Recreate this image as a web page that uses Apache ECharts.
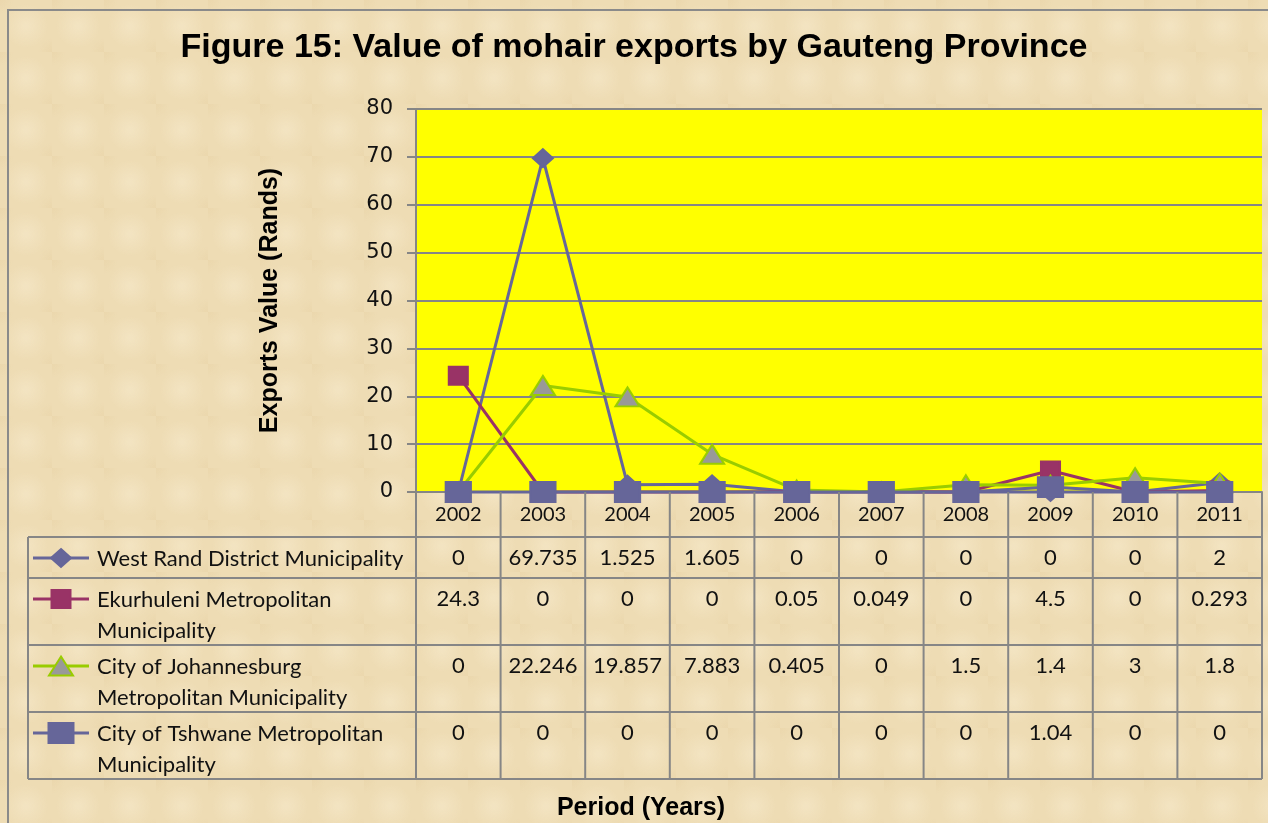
<!DOCTYPE html>
<html>
<head>
<meta charset="utf-8">
<script src="https://cdn.jsdelivr.net/npm/echarts@6/dist/echarts.min.js"></script>
<style>
  html, body { margin: 0; padding: 0; }
  body {
    background-color: #eedcb4;
    background-image:
      radial-gradient(circle at 50% 50%, rgba(248, 236, 208, 0.5) 0, rgba(248, 236, 208, 0) 22px),
      radial-gradient(circle at 0 0, rgba(228, 204, 156, 0.3) 0, rgba(228, 204, 156, 0) 14px),
      radial-gradient(circle at 100% 100%, rgba(228, 204, 156, 0.3) 0, rgba(228, 204, 156, 0) 14px);
    background-size: 52px 52px;
  }
  #main { width: 1268px; height: 823px; }
</style>
</head>
<body>
<div id="main"></div>
<script>
// data
const years = ['2002', '2003', '2004', '2005', '2006', '2007', '2008', '2009', '2010', '2011']
const seriesNames = [
  'West Rand District Municipality',
  'Ekurhuleni Metropolitan Municipality',
  'City of Johannesburg Metropolitan Municipality',
  'City of Tshwane Metropolitan Municipality'
]
const westRand = [0, 69.735, 1.525, 1.605, 0, 0, 0, 0, 0, 2]
const ekurhuleni = [24.3, 0, 0, 0, 0.05, 0.049, 0, 4.5, 0, 0.293]
const johannesburg = [0, 22.246, 19.857, 7.883, 0.405, 0, 1.5, 1.4, 3, 1.8]
const tshwane = [0, 0, 0, 0, 0, 0, 0, 1.04, 0, 0]
const yMin = 0
const yMax = 80
const yStep = 10

const values = [westRand, ekurhuleni, johannesburg, tshwane]

const styles = [
  { line: '#666699', fill: '#666699', border: '#666699', symbol: 'diamond', size: [20, 18] },
  { line: '#993366', fill: '#993366', border: '#993366', symbol: 'rect', size: [19, 18] },
  { line: '#99cc00', fill: '#999999', border: '#99cc00', symbol: 'triangle', size: [24, 19] },
  { line: '#666699', fill: '#666699', border: '#666699', symbol: 'rect', size: [25, 20] }
]

const font = 'Lato, "Open Sans", sans-serif'
const boldFont = '"Liberation Sans", Arial, sans-serif'
const gridColor = '#868686'

// table layout
const plotLeft = 416
const plotRight = 1262
const axisY = 492
const tableLeft = 28
const rowTops = [537, 578, 645, 712]
const tableBottom = 779
const colW = (plotRight - plotLeft) / years.length

const graphic = []
const line = (x1, y1, x2, y2) => ({
  type: 'line',
  shape: { x1, y1, x2, y2 },
  style: { stroke: gridColor, lineWidth: 2 },
  z: 10
})

// horizontal rules
rowTops.forEach(y => graphic.push(line(tableLeft, y, plotRight, y)))
graphic.push(line(tableLeft, tableBottom, plotRight, tableBottom))
// verticals
graphic.push(line(tableLeft, rowTops[0], tableLeft, tableBottom))
for (let i = 0; i <= years.length; i++) {
  const x = plotLeft + i * colW
  graphic.push(line(x, axisY, x, tableBottom))
}

seriesNames.forEach((name, r) => {
  const y = rowTops[r] + 21
  const st = styles[r]
  graphic.push({
    type: 'line',
    shape: { x1: 33, y1: y, x2: 89, y2: y },
    style: { stroke: st.line, lineWidth: 3 },
    z: 11
  })
  const cx = 61
  const [w, h] = st.size
  let key
  if (st.symbol === 'diamond') {
    key = { type: 'polygon', shape: { points: [[cx, y - h / 2], [cx + w / 2, y], [cx, y + h / 2], [cx - w / 2, y]] } }
  } else if (st.symbol === 'triangle') {
    key = { type: 'polygon', shape: { points: [[cx, y - h / 2], [cx + w / 2, y + h / 2], [cx - w / 2, y + h / 2]] } }
  } else {
    key = { type: 'rect', shape: { x: cx - w / 2, y: y - h / 2, width: w, height: h } }
  }
  key.style = { fill: st.fill, stroke: st.border, lineWidth: 2 }
  key.z = 12
  graphic.push(key)

  graphic.push({
    type: 'text',
    x: 97,
    y: y - 15,
    style: {
      text: name,
      font: '22px ' + font,
      fill: '#111',
      width: 316,
      overflow: 'break',
      lineHeight: 31
    },
    z: 12
  })

  values[r].forEach((v, c) => {
    graphic.push({
      type: 'text',
      x: plotLeft + (c + 0.5) * colW,
      y: y,
      style: {
        text: String(v),
        font: '22px ' + font,
        fill: '#111',
        align: 'center',
        verticalAlign: 'middle'
      },
      z: 12
    })
  })
})

// x axis title, centred on the whole figure
graphic.push({
  type: 'text',
  x: 641,
  y: 808,
  style: {
    text: 'Period (Years)',
    font: 'bold 25px ' + boldFont,
    fill: '#000',
    align: 'center',
    verticalAlign: 'middle'
  },
  z: 12
})

// outer chart border
graphic.push({
  type: 'rect',
  shape: { x: 8, y: 10, width: 1280, height: 830 },
  style: { fill: null, stroke: '#8a8a8a', lineWidth: 2 },
  z: 1
})

const chart = echarts.init(document.getElementById('main'))
chart.setOption({
  backgroundColor: 'transparent',
  animation: false,
  title: {
    text: 'Figure 15: Value of mohair exports by Gauteng Province',
    left: 'center',
    top: 26,
    textStyle: { fontFamily: boldFont, fontWeight: 'bold', fontSize: 34, color: '#000' }
  },
  grid: {
    left: plotLeft,
    right: 1268 - plotRight,
    top: 109,
    bottom: 823 - axisY,
    show: true,
    backgroundColor: '#ffff00',
    borderWidth: 0
  },
  xAxis: {
    type: 'category',
    data: years,
    boundaryGap: true,
    axisLine: { lineStyle: { color: gridColor, width: 2 } },
    axisTick: { show: false },
    axisLabel: { color: '#111', fontFamily: font, fontSize: 20, margin: 13 }
  },
  yAxis: {
    type: 'value',
    min: yMin,
    max: yMax,
    interval: yStep,
    axisLine: { show: true, lineStyle: { color: gridColor, width: 2 } },
    axisTick: { show: true, length: 9, lineStyle: { color: gridColor, width: 2 } },
    splitLine: { lineStyle: { color: gridColor, width: 2 } },
    axisLabel: { color: '#111', fontFamily: '"DejaVu Sans", Verdana, sans-serif', fontSize: 21, margin: 23 },
    name: 'Exports Value (Rands)',
    nameLocation: 'middle',
    nameGap: 133,
    nameRotate: 90,
    nameTextStyle: { fontFamily: boldFont, fontWeight: 'bold', fontSize: 25, color: '#000' }
  },
  series: seriesNames.map((name, i) => ({
    name,
    type: 'line',
    data: values[i],
    symbol: styles[i].symbol,
    symbolSize: styles[i].size,
    showAllSymbol: true,
    clip: false,
    lineStyle: { color: styles[i].line, width: 3 },
    itemStyle: { color: styles[i].fill, borderColor: styles[i].border, borderWidth: 2 },
    z: 3 + i
  })),
  graphic
})
</script>
</body>
</html>
